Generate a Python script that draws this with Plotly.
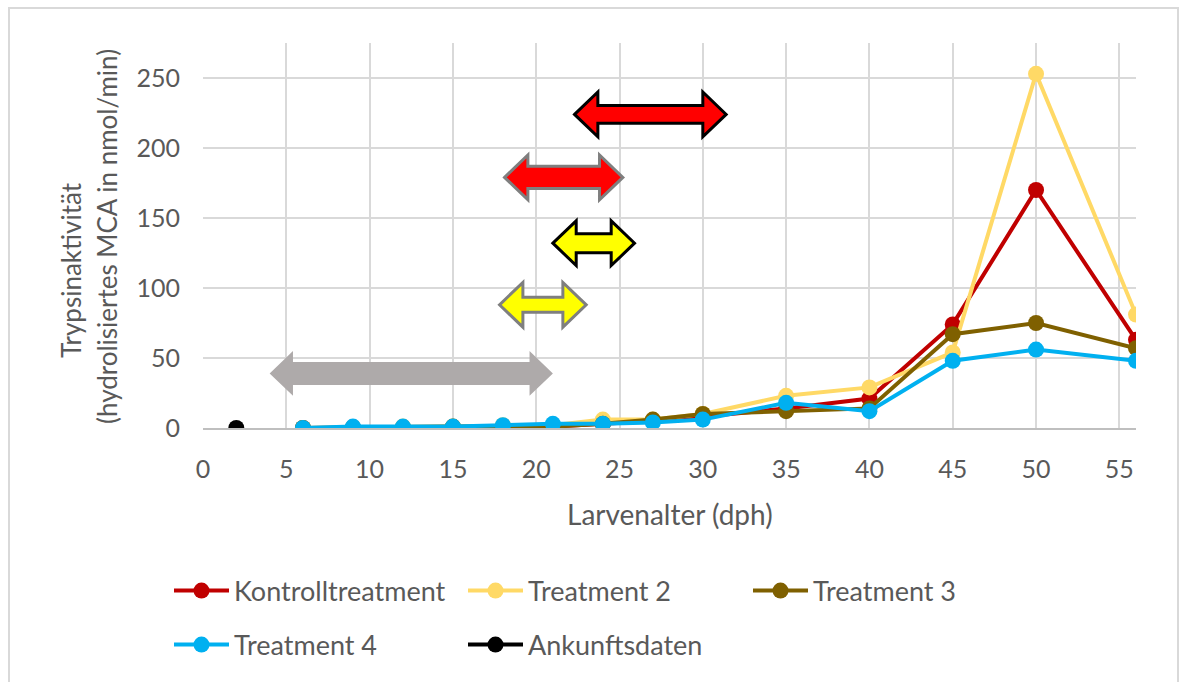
import plotly.graph_objects as go

# Larval age (days post hatch) at each sampling point
dph = [6, 9, 12, 15, 18, 21, 24, 27, 30, 35, 40, 45, 50, 56]

# Trypsin activity (hydrolysed MCA in nmol/min)
kontroll = [0, 0, 0, 0, 0.5, 1, 3, 5, 8, 14, 21, 74, 170, 63]
treatment2 = [0, 0.5, 1, 1, 2, 2, 6, 6, 10, 23, 29, 54, 253, 81]
treatment3 = [0, 0.5, 0.5, 1, 1, 1, 3, 6, 10, 12, 14, 67, 75, 57]
treatment4 = [0, 1, 1, 1, 2, 3, 3, 4, 6, 18, 12, 48, 56, 48]

ankunft_x = [2]
ankunft_y = [0]

# Feeding windows shown as double arrows: start/end age and activity level
arrow_start = [4, 22.3, 18.1, 21.0, 17.8]
arrow_end = [21.0, 31.4, 25.2, 25.9, 23.0]
arrow_level = [39, 224, 179, 132, 88]

# Arrow appearance: fill, outline, outline width, shaft half-height
arrow_style = [
    ("#AEAAAA", None, 0, 8.2),
    ("#FF0000", "#000000", 3, 6.4),
    ("#FF0000", "#7F7F7F", 3, 8.0),
    ("#FFFF00", "#000000", 3, 6.8),
    ("#FFFF00", "#7F7F7F", 3, 5.4),
]
HEAD_LEN = 1.4    # in dph
HEAD_HALF = 16.0  # in activity units

FONT = "Lato"
TXT = "#595959"
GRID = "#D9D9D9"

series = [
    ("Kontrolltreatment", kontroll, "#C00000"),
    ("Treatment 2", treatment2, "#FFD966"),
    ("Treatment 3", treatment3, "#7F6000"),
    ("Treatment 4", treatment4, "#00B0F0"),
]

fig = go.Figure()
legend_ids = ["legend", "legend2", "legend3", "legend4"]
for (name, vals, col), lg in zip(series, legend_ids):
    fig.add_trace(go.Scatter(
        x=dph, y=vals, name=name, mode="lines+markers",
        line=dict(color=col, width=4),
        marker=dict(color=col, size=16),
        legend=lg,
    ))
fig.add_trace(go.Scatter(
    x=ankunft_x, y=ankunft_y, name="Ankunftsdaten", mode="lines+markers",
    line=dict(color="#000000", width=4),
    marker=dict(color="#000000", size=16),
    legend="legend5",
))


def arrow_path(x0, x1, yc, sh):
    hl, hh = HEAD_LEN, HEAD_HALF
    pts = [
        (x0, yc), (x0 + hl, yc + hh), (x0 + hl, yc + sh), (x1 - hl, yc + sh),
        (x1 - hl, yc + hh), (x1, yc), (x1 - hl, yc - hh), (x1 - hl, yc - sh),
        (x0 + hl, yc - sh), (x0 + hl, yc - hh),
    ]
    return "M " + " L ".join(f"{px},{py}" for px, py in pts) + " Z"


shapes = []
for x0, x1, yc, (fill, outline, lw, sh) in zip(arrow_start, arrow_end, arrow_level, arrow_style):
    shapes.append(dict(
        type="path", xref="x", yref="y", path=arrow_path(x0, x1, yc, sh),
        fillcolor=fill, line=dict(color=outline or fill, width=lw),
        layer="above",
    ))

# outer chart frame
L, R, T, B = 203, 47, 43, 254
PW, PH = 1183 - L - R, 682 - T - B


def px_x(p):
    return (p - L) / PW


def px_y(p):
    return (682 - B - p) / PH


shapes.append(dict(
    type="rect", xref="paper", yref="paper",
    x0=px_x(9), x1=px_x(1178), y0=px_y(700), y1=px_y(8),
    line=dict(color=GRID, width=2), fillcolor="rgba(0,0,0,0)", layer="below",
))

title_font = dict(family=FONT, size=26, color=TXT)
annotations = [
    dict(text="Trypsinaktivität", xref="paper", yref="paper",
         x=px_x(71), y=px_y(270), xanchor="center", yanchor="middle",
         textangle=-90, showarrow=False, font=title_font),
    dict(text="(hydrolisiertes MCA in nmol/min)", xref="paper", yref="paper",
         x=px_x(107), y=px_y(237), xanchor="center", yanchor="middle",
         textangle=-90, showarrow=False, font=title_font),
    dict(text="Larvenalter (dph)", xref="paper", yref="paper",
         x=px_x(670), y=px_y(514), xanchor="center", yanchor="middle",
         showarrow=False, font=dict(family=FONT, size=28, color=TXT)),
]

legend_font = dict(family=FONT, size=27, color=TXT)
legend_pos = {
    "legend": (236, 591), "legend2": (530, 591), "legend3": (815, 591),
    "legend4": (236, 645), "legend5": (530, 645),
}
ITEM_W = 55
legend_layout = {}
for lg, (tx, ty) in legend_pos.items():
    legend_layout[lg] = dict(
        x=px_x(tx - ITEM_W - 12), y=px_y(ty), xanchor="left", yanchor="middle",
        font=legend_font, bgcolor="rgba(0,0,0,0)", orientation="h",
        itemwidth=ITEM_W,
    )

fig.update_layout(
    width=1183, height=682,
    margin=dict(l=L, r=R, t=T, b=B),
    plot_bgcolor="white", paper_bgcolor="white",
    showlegend=True,
    shapes=shapes, annotations=annotations,
    font=dict(family=FONT, color=TXT),
    **legend_layout,
)
fig.update_xaxes(
    range=[0, 56], tick0=0, dtick=5, showgrid=True, gridcolor=GRID, gridwidth=2,
    zeroline=False, showline=True, linecolor="#BFBFBF", linewidth=2,
    ticks="", ticklabelstandoff=18,
    tickfont=dict(family=FONT, size=25, color=TXT),
)
fig.update_yaxes(
    range=[0, 275], tick0=0, dtick=50, showgrid=True, gridcolor=GRID, gridwidth=2,
    zeroline=False, showline=False,
    ticks="", ticklabelstandoff=22,
    tickfont=dict(family=FONT, size=25, color=TXT),
)

fig.write_html("out.html")
